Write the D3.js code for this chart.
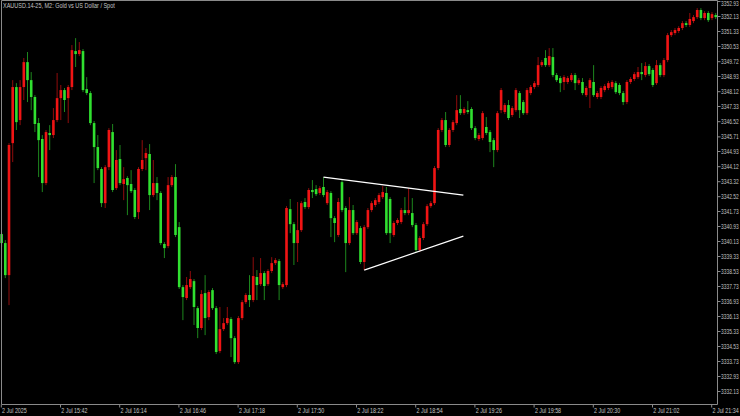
<!DOCTYPE html>
<html><head><meta charset="utf-8">
<script src="https://cdn.jsdelivr.net/npm/d3@7"></script>
<style>html,body{margin:0;padding:0;background:#000;overflow:hidden}</style>
</head><body><svg id="c" width="740" height="416"></svg>
<script>
const title = "XAUUSD.14-25, M2:  Gold vs US Dollar / Spot";
const priceTickLabels = ["3352.93","3352.13","3351.33","3350.53","3349.72","3348.93","3348.12","3347.33","3346.52","3345.71","3344.93","3344.12","3343.32","3342.52","3341.73","3340.93","3340.13","3339.33","3338.53","3337.73","3336.93","3336.13","3335.33","3334.53","3333.73","3332.93","3332.13"];
const timeTickBars = [0,16,32,48,64,80,96,112,128,144,160,176,192];
const timeTickLabels = ["2 Jul 2025","2 Jul 15:42","2 Jul 16:14","2 Jul 16:46","2 Jul 17:18","2 Jul 17:50","2 Jul 18:22","2 Jul 18:54","2 Jul 19:26","2 Jul 19:58","2 Jul 20:30","2 Jul 21:02","2 Jul 21:34"];
const open = [3340.50,3340.02,3338.31,3345.35,3348.34,3346.58,3348.34,3349.67,3348.71,3347.81,
3346.42,3345.57,3343.22,3345.89,3345.78,3346.58,3347.75,3348.18,3347.75,3348.34,
3350.26,3350.10,3350.26,3348.23,3348.02,3346.42,3345.14,3343.97,3342.15,3344.07,
3345.94,3342.95,3344.50,3343.17,3343.49,3343.17,3342.85,3341.67,3343.97,3344.55,
3344.77,3342.58,3343.22,3342.69,3339.97,3339.86,3343.11,3343.54,3340.87,3337.67,
3337.09,3337.67,3337.99,3336.55,3335.49,3337.35,3336.07,3337.51,3336.55,3334.26,
3335.43,3335.75,3335.97,3334.95,3333.67,3336.02,3336.87,3337.25,3336.98,3338.21,
3337.83,3338.42,3337.83,3338.53,3338.95,3339.06,3337.67,3337.78,3341.83,3341.03,
3340.02,3340.71,3342.21,3341.94,3342.85,3342.90,3342.69,3343.01,3342.15,3342.69,
3341.35,3340.45,3343.27,3341.89,3340.02,3341.78,3340.55,3340.82,3339.01,3340.87,
3341.78,3342.05,3342.21,3342.47,3342.69,3342.37,3340.45,3341.09,3341.14,3341.78,
3341.62,3341.62,3340.98,3339.65,3340.29,3341.03,3341.99,3342.15,3344.02,3346.05,
3346.58,3345.25,3346.05,3346.42,3347.17,3346.95,3347.11,3347.17,3346.15,3345.57,
3345.62,3346.21,3345.94,3345.51,3344.98,3347.11,3347.01,3347.38,3346.85,3347.11,
3348.02,3347.54,3346.95,3348.02,3348.34,3348.45,3349.51,3349.89,3349.51,3349.94,
3348.98,3348.82,3348.61,3348.61,3348.71,3348.98,3348.55,3348.61,3347.91,3348.29,
3348.61,3347.81,3347.81,3348.18,3348.29,3348.34,3348.55,3348.45,3348.02,3347.54,
3348.61,3348.77,3348.87,3349.14,3348.98,3349.46,3349.25,3348.55,3349.51,3348.98,
3349.78,3351.11,3351.22,3351.33,3351.49,3351.75,3351.65,3351.86,3352.07,3352.45,
3352.02,3352.29,3352.02,3352.18];
const high = [3340.61,3340.18,3345.35,3348.71,3348.55,3348.71,3349.89,3350.21,3349.14,3347.91,
3346.69,3345.78,3346.05,3346.31,3347.22,3349.09,3348.45,3348.29,3348.45,3350.58,
3350.95,3350.74,3350.37,3348.87,3348.13,3346.53,3345.78,3344.07,3344.18,3346.15,
3346.37,3344.98,3345.25,3344.07,3343.59,3343.91,3342.95,3344.07,3345.51,3345.09,
3345.30,3344.45,3343.54,3342.79,3340.07,3343.54,3343.65,3344.23,3341.14,3337.78,
3338.21,3338.53,3338.10,3336.66,3337.51,3338.31,3337.51,3337.62,3336.66,3336.61,
3336.02,3336.61,3336.07,3335.06,3336.13,3336.98,3337.35,3338.31,3339.27,3338.58,
3339.22,3338.53,3338.63,3339.27,3339.22,3339.17,3337.94,3341.99,3342.37,3341.14,
3342.21,3342.26,3342.42,3342.95,3343.38,3343.11,3343.06,3343.54,3342.85,3342.79,
3341.46,3342.42,3343.38,3341.99,3342.47,3342.05,3341.25,3340.93,3340.98,3341.89,
3342.26,3342.42,3342.69,3343.06,3343.01,3342.47,3341.19,3341.35,3341.89,3342.47,
3342.95,3342.42,3341.09,3340.39,3341.14,3342.10,3342.26,3344.13,3346.15,3346.69,
3347.01,3346.15,3346.58,3347.91,3347.91,3347.27,3347.59,3347.27,3346.26,3345.89,
3347.06,3346.74,3346.05,3345.62,3347.06,3348.29,3347.49,3347.65,3347.33,3348.29,
3348.13,3347.65,3348.29,3348.45,3348.66,3349.94,3349.78,3350.31,3350.42,3350.42,
3349.09,3348.93,3348.98,3348.93,3349.09,3349.09,3348.82,3348.82,3348.39,3348.82,
3349.51,3348.13,3348.39,3348.50,3348.66,3348.71,3348.66,3348.55,3348.13,3348.71,
3348.87,3349.14,3349.41,3349.62,3349.67,3349.57,3349.35,3349.78,3349.62,3349.89,
3351.22,3351.38,3351.49,3351.59,3351.86,3351.86,3352.29,3352.18,3352.55,3352.55,
3352.39,3352.39,3352.34,3352.29];
const low = [3339.81,3338.15,3336.71,3344.34,3346.05,3346.31,3347.65,3347.54,3347.11,3345.94,
3343.54,3342.74,3343.11,3344.98,3345.62,3346.47,3346.58,3347.01,3346.42,3348.18,
3349.41,3349.99,3348.07,3347.91,3346.31,3343.22,3343.91,3341.94,3341.89,3343.91,
3342.74,3342.85,3343.11,3342.31,3341.51,3342.69,3341.30,3341.30,3343.86,3343.91,
3341.78,3342.47,3342.31,3339.91,3339.22,3339.75,3343.01,3340.34,3337.57,3335.91,
3336.98,3337.57,3335.65,3334.95,3335.38,3335.11,3335.91,3336.45,3334.10,3334.15,
3335.33,3335.65,3333.94,3333.57,3333.57,3335.91,3336.77,3336.61,3336.87,3336.98,
3337.73,3336.98,3337.73,3338.42,3338.85,3336.98,3337.57,3337.67,3340.55,3338.85,
3339.01,3340.61,3341.83,3341.83,3342.42,3342.53,3342.58,3342.47,3342.05,3340.34,
3340.07,3340.34,3341.67,3338.47,3339.91,3340.45,3340.45,3338.90,3338.58,3340.77,
3341.67,3341.94,3342.10,3342.37,3340.45,3340.02,3340.34,3340.98,3341.03,3341.51,
3341.51,3340.87,3339.54,3339.54,3340.18,3340.93,3341.89,3342.05,3343.91,3345.94,
3345.14,3345.14,3345.94,3346.31,3346.85,3346.85,3346.90,3346.05,3345.51,3345.46,
3345.51,3345.78,3344.87,3344.07,3344.87,3346.95,3346.90,3346.58,3346.74,3347.01,
3346.69,3346.85,3346.85,3347.91,3348.23,3348.34,3349.41,3349.41,3349.41,3348.87,
3348.61,3348.07,3348.18,3348.50,3348.61,3348.18,3348.45,3347.91,3347.81,3347.22,
3347.81,3347.70,3347.70,3348.07,3348.18,3348.23,3347.97,3347.91,3347.38,3347.43,
3348.50,3348.66,3348.77,3348.71,3348.87,3348.93,3348.34,3348.45,3348.87,3348.87,
3349.67,3351.01,3351.11,3351.22,3351.38,3351.54,3351.54,3351.75,3351.97,3351.91,
3351.91,3351.81,3351.91,3351.97];
const close = [3340.02,3338.31,3345.25,3348.34,3346.47,3348.34,3349.67,3348.71,3347.81,3346.37,
3345.51,3343.22,3345.94,3345.78,3346.58,3347.75,3348.18,3347.65,3348.34,3350.31,
3350.10,3350.31,3348.18,3348.02,3346.42,3345.14,3344.02,3342.15,3344.07,3346.05,
3342.85,3344.45,3343.22,3343.43,3343.11,3342.79,3341.41,3343.97,3344.45,3344.82,
3342.58,3343.22,3342.69,3340.02,3339.75,3343.11,3343.54,3340.45,3337.67,3337.14,
3337.78,3338.10,3336.61,3335.49,3337.30,3336.02,3337.41,3336.55,3334.21,3335.43,
3335.75,3336.02,3334.95,3333.67,3336.02,3336.87,3337.25,3336.98,3338.26,3337.78,
3338.42,3337.73,3338.53,3338.95,3339.11,3337.78,3337.83,3341.89,3341.03,3340.02,
3340.71,3342.15,3341.94,3342.85,3342.74,3342.63,3342.95,3342.58,3342.74,3341.35,
3341.09,3342.21,3341.78,3340.02,3341.78,3340.55,3341.14,3339.01,3340.87,3341.78,
3342.15,3342.31,3342.58,3342.74,3340.55,3340.55,3341.09,3341.25,3341.78,3341.62,
3341.78,3340.98,3339.65,3340.29,3341.03,3341.99,3342.15,3344.02,3346.05,3346.58,
3345.25,3346.05,3346.47,3347.11,3346.95,3347.17,3347.01,3346.15,3345.62,3345.78,
3346.95,3345.89,3345.41,3344.98,3346.95,3348.18,3347.38,3346.69,3347.22,3348.18,
3347.11,3346.95,3348.18,3348.34,3348.55,3349.51,3349.67,3349.51,3349.99,3348.98,
3348.71,3348.55,3348.87,3348.82,3348.98,3348.55,3348.71,3348.02,3348.29,3348.71,
3347.91,3348.02,3348.29,3348.39,3348.55,3348.61,3348.07,3348.02,3347.54,3348.61,
3348.77,3349.03,3349.14,3349.03,3349.46,3349.03,3348.45,3349.51,3348.98,3349.78,
3351.11,3351.27,3351.38,3351.49,3351.75,3351.65,3351.97,3352.07,3352.45,3352.02,
3352.29,3351.91,3352.23,3352.07];
const trendUpper = [{bar: 87, price: 3343.54}, {bar: 124.8, price: 3342.58}];
const trendLower = [{bar: 98, price: 3338.58}, {bar: 124.8, price: 3340.39}];

const W = 740, H = 416;
const plotLeft = 1, plotRight = 717, plotTop = 0, plotBottom = 404;
const upColor = "#f01414", downColor = "#30e030";
const txtColor = "#c4c4c4", frameColor = "#8a8a8a";
const font = "Liberation Sans, Arial, sans-serif";
const fontSize = 6.8;

const svg = d3.select("#c");
svg.append("rect").attr("width", W).attr("height", H).attr("fill", "#000");

const x = d3.scaleLinear().domain([0, open.length - 1]).range([1.6, 1.6 + (open.length - 1) * 3.7]);
const y = d3.scaleLinear().domain([3332.13, 3352.13]).range([391, 16]);

const candles = open.map((o, i) => ({i, o, h: high[i], l: low[i], c: close[i]}));

const g = svg.append("g");
g.selectAll("rect.wick").data(candles).join("rect")
  .attr("class", "wick")
  .attr("x", d => x(d.i) - 0.5)
  .attr("width", 1)
  .attr("y", d => y(d.h))
  .attr("height", d => Math.max(0.5, y(d.l) - y(d.h)))
  .attr("fill", d => d.c > d.o ? upColor : downColor)
  .attr("opacity", 0.6);
g.selectAll("rect.body").data(candles).join("rect")
  .attr("class", "body")
  .attr("x", d => x(d.i) - 1.3)
  .attr("width", 2.6)
  .attr("y", d => y(Math.max(d.o, d.c)))
  .attr("height", d => Math.max(1, Math.abs(y(d.o) - y(d.c))))
  .attr("fill", d => d.c > d.o ? upColor : downColor);

const line = d3.line().x(d => x(d.bar)).y(d => y(d.price));
[trendUpper, trendLower].forEach(t => {
  svg.append("path").attr("d", line(t)).attr("stroke", "#ffffff").attr("stroke-width", 1.2).attr("fill", "none");
});

// frame
svg.append("path")
  .attr("d", `M${plotLeft+0.5},${plotBottom+0.5} V${plotTop+0.5} H${plotRight+0.5} V${plotBottom+0.5} H${plotLeft+0.5}`)
  .attr("stroke", frameColor).attr("fill", "none").attr("stroke-width", 1);

// horizontally condensed text via transform (keeps glyph height)
function squeeze(sel, sx) {
  sel.each(function() {
    const t = d3.select(this);
    const tx = +t.attr("x") || 0;
    t.attr("x", 0).attr("transform", `translate(${tx},0) scale(${sx},1)`);
  });
}

const yAxis = d3.axisRight(y)
  .tickValues(priceTickLabels.map(Number))
  .tickFormat((d, i) => priceTickLabels[i])
  .tickSize(3).tickPadding(0.5);
const ya = svg.append("g").attr("transform", `translate(${plotRight + 0.5},0)`).call(yAxis);
ya.select(".domain").remove();
ya.selectAll("line").attr("stroke", frameColor);
ya.selectAll("text").attr("fill", txtColor).attr("font-family", font).attr("font-size", fontSize)
  .attr("dy", (d, i) => i === 0 ? "0.72em" : "0.32em")
  .call(squeeze, 0.72);

const xAxis = d3.axisBottom(x)
  .tickValues(timeTickBars)
  .tickFormat((d, i) => timeTickLabels[i])
  .tickSize(3).tickPadding(1);
const xa = svg.append("g").attr("transform", `translate(-0.8,${plotBottom + 0.5})`).call(xAxis);
xa.select(".domain").remove();
xa.selectAll("line").attr("stroke", frameColor);
xa.selectAll("text").attr("fill", txtColor).attr("font-family", font).attr("font-size", fontSize)
  .attr("text-anchor", "start").attr("dx", 1).call(squeeze, 0.79);

svg.append("text").attr("x", 3).attr("y", 8.5).text(title)
  .attr("fill", txtColor).attr("font-family", font).attr("font-size", fontSize).call(squeeze, 0.81);
</script>
</body></html>
